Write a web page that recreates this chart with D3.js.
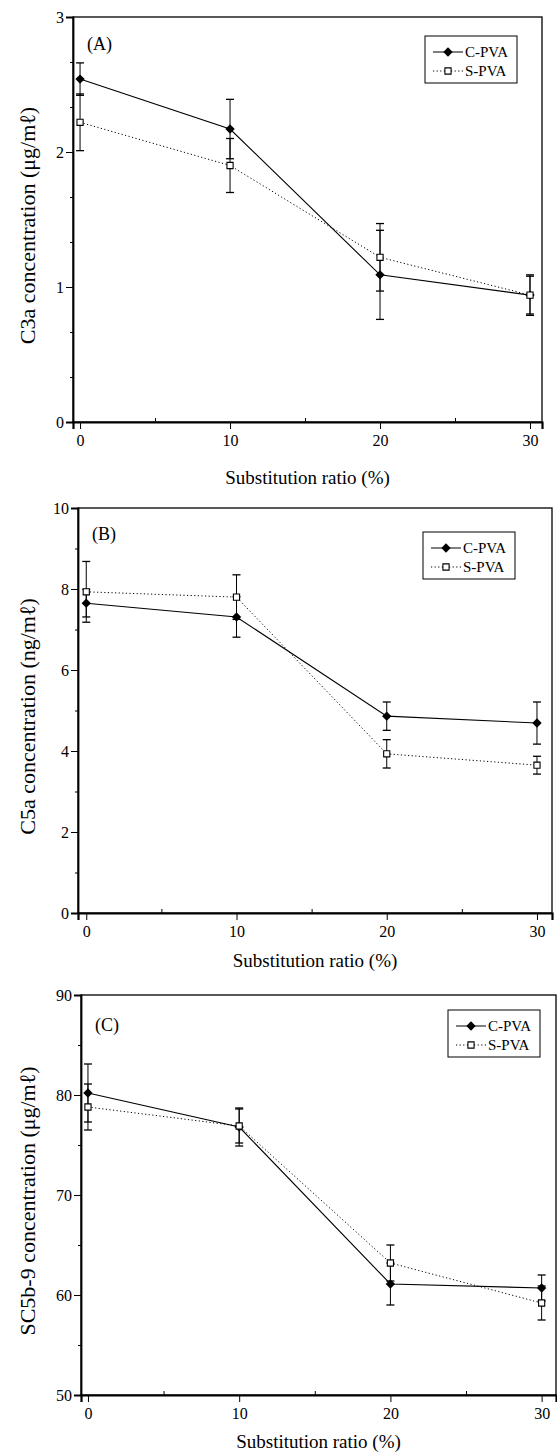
<!DOCTYPE html>
<html>
<head>
<meta charset="utf-8">
<script src="https://cdn.jsdelivr.net/npm/d3@7"></script>
<style>
  html, body { margin: 0; padding: 0; background: #fff; }
  svg { display: block; }
  text { font-family: "Liberation Serif", "Times New Roman", serif; fill: #000; }
</style>
</head>
<body>
<div id="chart"></div>
<script>
// Complement activation vs. substitution ratio — three stacked panels (A, B, C)
const ratios = [0, 10, 20, 30];
const seriesNames = ["C-PVA", "S-PVA"];

// (A) C3a, μg/mℓ
const c3aC    = [2.54, 2.17, 1.09, 0.94];
const c3aCErr = [0.12, 0.22, 0.33, 0.15];
const c3aS    = [2.22, 1.90, 1.22, 0.94];
const c3aSErr = [0.21, 0.20, 0.25, 0.14];

// (B) C5a, ng/mℓ
const c5aC    = [7.65, 7.31, 4.86, 4.69];
const c5aCErr = [0.34, 0.50, 0.35, 0.52];
const c5aS    = [7.93, 7.80, 3.93, 3.65];
const c5aSErr = [0.75, 0.55, 0.35, 0.22];

// (C) SC5b-9, μg/mℓ
const sc5bC    = [80.2, 76.8, 61.1, 60.7];
const sc5bCErr = [2.9, 1.9, 2.1, 1.3];
const sc5bS    = [78.8, 76.9, 63.2, 59.2];
const sc5bSErr = [2.3, 1.7, 1.8, 1.7];

// tick values
const xMajor = [0, 10, 20, 30];
const xMinor = [5, 15, 25];
const c3aMajor = [0, 1, 2, 3];
const c3aMinor = [1/3, 2/3, 4/3, 5/3, 7/3, 8/3];
const c5aMajor = [0, 2, 4, 6, 8, 10];
const c5aMinor = [1, 3, 5, 7, 9];
const sc5bMajor = [50, 60, 70, 80, 90];
const sc5bMinor = [55, 65, 75, 85];

const W = 557, H = 1455;
const svg = d3.select("#chart").append("svg")
  .attr("width", W).attr("height", H)
  .attr("viewBox", `0 0 ${W} ${H}`);

const panels = [
  { tag: "(A)", yTitle: "C3a concentration (μg/mℓ)",
    c: c3aC, cErr: c3aCErr, s: c3aS, sErr: c3aSErr,
    yDom: [0, 3], yMajor: c3aMajor, yMinor: c3aMinor,
    left: 73, right: 542, top: 17, bottom: 422, xDom: [-0.47, 30.8],
    legTop: 36, legGap: 25, titleOff: 62, tagOff: 33 },
  { tag: "(B)", yTitle: "C5a concentration (ng/mℓ)",
    c: c5aC, cErr: c5aCErr, s: c5aS, sErr: c5aSErr,
    yDom: [0, 10], yMajor: c5aMajor, yMinor: c5aMinor,
    left: 78, right: 552, top: 508, bottom: 913, xDom: [-0.55, 31.0],
    legTop: 532, legGap: 37, titleOff: 54, tagOff: 32 },
  { tag: "(C)", yTitle: "SC5b-9 concentration (μg/mℓ)",
    c: sc5bC, cErr: sc5bCErr, s: sc5bS, sErr: sc5bSErr,
    yDom: [50, 90], yMajor: sc5bMajor, yMinor: sc5bMinor,
    left: 81, right: 556, top: 995, bottom: 1395, xDom: [-0.46, 30.95],
    legTop: 1010, legGap: 16, titleOff: 53, tagOff: 36 }
];

const diamond = d3.symbol().type(d3.symbolSquare).size(44);
const square = d3.symbol().type(d3.symbolSquare).size(38);

panels.forEach(p => {
  const x = d3.scaleLinear().domain(p.xDom).range([p.left, p.right]);
  const y = d3.scaleLinear().domain(p.yDom).range([p.bottom, p.top]);
  const g = svg.append("g");

  // frame
  g.append("rect")
    .attr("x", p.left).attr("y", p.top)
    .attr("width", p.right - p.left).attr("height", p.bottom - p.top)
    .attr("fill", "none").attr("stroke", "#000").attr("stroke-width", 1.3);

  // y axis: major outward, minor short
  const yAx = g.append("g").attr("transform", `translate(${p.left},0)`)
    .call(d3.axisLeft(y).tickValues(p.yMajor).tickSize(7).tickPadding(2).tickFormat(d3.format("d")));
  yAx.select(".domain").attr("stroke-width", 1.8);
  yAx.selectAll("text").attr("font-size", "16px").attr("font-family", "Liberation Serif, serif");
  g.append("g").attr("transform", `translate(${p.left},0)`)
    .call(d3.axisLeft(y).tickValues(p.yMinor).tickSize(3).tickFormat(""))
    .select(".domain").remove();

  // x axis: major downward, minor inward
  const xAx = g.append("g").attr("transform", `translate(0,${p.bottom})`)
    .call(d3.axisBottom(x).tickValues(xMajor).tickSize(7).tickPadding(6).tickFormat(d3.format("d")));
  xAx.select(".domain").attr("stroke-width", 2.2);
  xAx.selectAll("text").attr("font-size", "16px").attr("font-family", "Liberation Serif, serif");
  g.append("g").attr("transform", `translate(0,${p.bottom})`)
    .call(d3.axisBottom(x).tickValues(xMinor).tickSize(-4).tickFormat(""))
    .select(".domain").remove();

  // axis titles
  g.append("text")
    .attr("x", (p.left + p.right) / 2).attr("y", p.bottom + p.titleOff)
    .attr("text-anchor", "middle").attr("font-size", "19px")
    .text("Substitution ratio (%)");
  g.append("text")
    .attr("transform", `translate(35,${(p.top + p.bottom) / 2 + 6}) rotate(-90)`)
    .attr("text-anchor", "middle").attr("font-size", "22px")
    .text(p.yTitle);

  // panel tag
  g.append("text")
    .attr("x", p.left + 14).attr("y", p.top + p.tagOff)
    .attr("font-size", "18px")
    .text(p.tag);

  const lineGen = d3.line().x((d, i) => x(ratios[i])).y(d => y(d));

  // S-PVA dotted
  g.append("path").datum(p.s)
    .attr("d", lineGen).attr("fill", "none")
    .attr("stroke", "#000").attr("stroke-width", 1).attr("stroke-dasharray", "1.2 2.4");
  // C-PVA solid
  g.append("path").datum(p.c)
    .attr("d", lineGen).attr("fill", "none")
    .attr("stroke", "#000").attr("stroke-width", 1.1);

  // error bars
  const drawErr = (vals, errs) => {
    vals.forEach((v, i) => {
      const cx = x(ratios[i]);
      const y1 = y(v + errs[i]), y2 = y(v - errs[i]);
      g.append("line").attr("x1", cx).attr("x2", cx).attr("y1", y1).attr("y2", y2)
        .attr("stroke", "#000").attr("stroke-width", 1);
      [y1, y2].forEach(yy => g.append("line")
        .attr("x1", cx - 4).attr("x2", cx + 4).attr("y1", yy).attr("y2", yy)
        .attr("stroke", "#000").attr("stroke-width", 1.3));
    });
  };
  drawErr(p.c, p.cErr);
  drawErr(p.s, p.sErr);

  // markers
  p.c.forEach((v, i) => g.append("path")
    .attr("d", diamond)
    .attr("transform", `translate(${x(ratios[i])},${y(v)}) rotate(45)`)
    .attr("fill", "#000"));
  p.s.forEach((v, i) => g.append("path")
    .attr("d", square)
    .attr("transform", `translate(${x(ratios[i])},${y(v)})`)
    .attr("fill", "#fff").attr("stroke", "#000").attr("stroke-width", 1.1));

  // legend
  const lw = 92, lh = 47;
  const lx = p.right - p.legGap - lw, ly = p.legTop;
  const lg = g.append("g").attr("transform", `translate(${lx},${ly})`);
  lg.append("rect").attr("width", lw).attr("height", lh)
    .attr("fill", "#fff").attr("stroke", "#000").attr("stroke-width", 1);
  seriesNames.forEach((name, i) => {
    const ry = 16 + i * 19;
    lg.append("line").attr("x1", 8).attr("x2", 38).attr("y1", ry).attr("y2", ry)
      .attr("stroke", "#000").attr("stroke-width", 1)
      .attr("stroke-dasharray", i === 0 ? null : "1.2 2.4");
    lg.append("path")
      .attr("d", i === 0 ? diamond : square)
      .attr("transform", `translate(23,${ry})${i === 0 ? " rotate(45)" : ""}`)
      .attr("fill", i === 0 ? "#000" : "#fff")
      .attr("stroke", i === 0 ? null : "#000").attr("stroke-width", 1.1);
    lg.append("text").attr("x", 40).attr("y", ry + 5)
      .attr("font-size", "15px").text(name);
  });
});
</script>
</body>
</html>
